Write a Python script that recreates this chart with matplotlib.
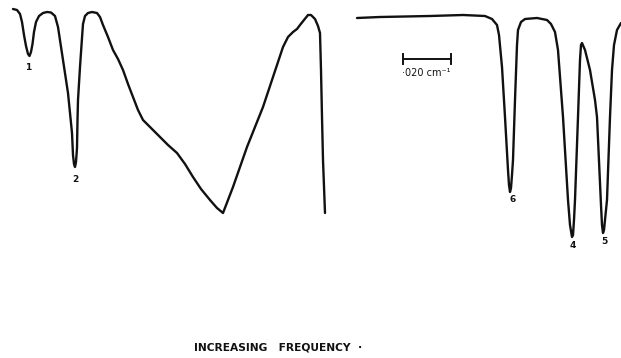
import matplotlib
matplotlib.use('Agg')
import matplotlib.pyplot as plt

# traced spectrum, left panel (x = position across page, y = pen deflection, page pixels)
left_x = [13, 17, 20, 22, 24, 26, 28, 29.5, 31, 32.5, 34, 36, 39, 43, 47, 51, 55, 58, 63, 68,
          72, 73, 74, 75, 76, 77, 77.5, 78, 80, 82, 83, 85, 88, 92, 97, 100, 103, 108, 113,
          118, 123, 128, 133, 138, 143, 152, 160, 168, 177, 185, 193, 201, 210, 217, 223,
          228, 233, 240, 247, 255, 263, 273, 283, 288, 293, 297, 300, 304, 308, 311, 315,
          318, 320, 321, 322, 323, 325]
left_y = [9, 10, 14, 22, 35, 46, 54, 56, 52, 44, 32, 22, 16, 13, 12, 12.5, 16, 27, 60, 93,
          133, 155, 164, 167, 162, 148, 120, 100, 67, 38, 24, 16, 13, 12, 13, 17, 25, 37, 50,
          59, 70, 84, 97, 110, 120, 129, 137, 145, 153, 164, 177, 189, 200, 208, 213,
          200, 187, 167, 147, 127, 107, 77, 47, 37, 32, 29, 25, 20, 15, 15, 19,
          26, 33, 70, 117, 160, 213]

# right panel
right_x = [357, 380, 430, 463, 485, 492, 497, 499, 502, 505, 508, 509, 510, 511, 512, 513, 515,
           517, 518, 521, 525, 537, 547, 551, 555, 558, 563, 568, 570, 572, 573, 574, 575,
           578, 580, 581, 582, 585, 590, 595, 597, 600, 601, 602, 603, 604, 606, 607, 610,
           612, 614, 617, 621]
right_y = [18, 17, 16, 15, 16, 19, 25, 35, 67, 117, 170, 185, 192, 188, 175, 160, 100,
           45, 30, 22, 19, 18, 20, 24, 32, 50, 117, 200, 225, 237, 235, 220, 200,
           117, 60, 45, 43, 50, 70, 100, 117, 183, 205, 225, 233, 230, 210, 200, 117,
           70, 45, 30, 23]

peak_labels = ['1', '2', '6', '4', '5']
peak_label_x = [28, 75, 513, 573, 604]
peak_label_y = [68, 180, 200, 245, 242]

scale_text = '·020 cm⁻¹'
caption = 'INCREASING   FREQUENCY  ·'

fig = plt.figure(figsize=(6.21, 3.58), dpi=100)
ax = fig.add_axes([0, 0, 1, 1])
ax.set_xlim(0, 621)
ax.set_ylim(358, 0)
ax.axis('off')

ink = '#111111'
ax.plot(left_x, left_y, color=ink, lw=1.7, solid_capstyle='round', solid_joinstyle='round')
ax.plot(right_x, right_y, color=ink, lw=1.7, solid_capstyle='round', solid_joinstyle='round')

for lab, lx, ly in zip(peak_labels, peak_label_x, peak_label_y):
    ax.text(lx, ly, lab, fontsize=6.5, fontweight='bold', color=ink, ha='center', va='center')

# scale bar
ax.plot([403, 451], [59, 59], color=ink, lw=1.4)
ax.plot([403, 403], [54, 64], color=ink, lw=1.4)
ax.plot([451, 451], [54, 64], color=ink, lw=1.4)
ax.text(426, 73, scale_text, fontsize=7, color=ink, ha='center', va='center')

ax.text(278, 348, caption, fontsize=7.7, fontweight='bold', color=ink, ha='center', va='center')

plt.savefig('out.png', dpi=100)
